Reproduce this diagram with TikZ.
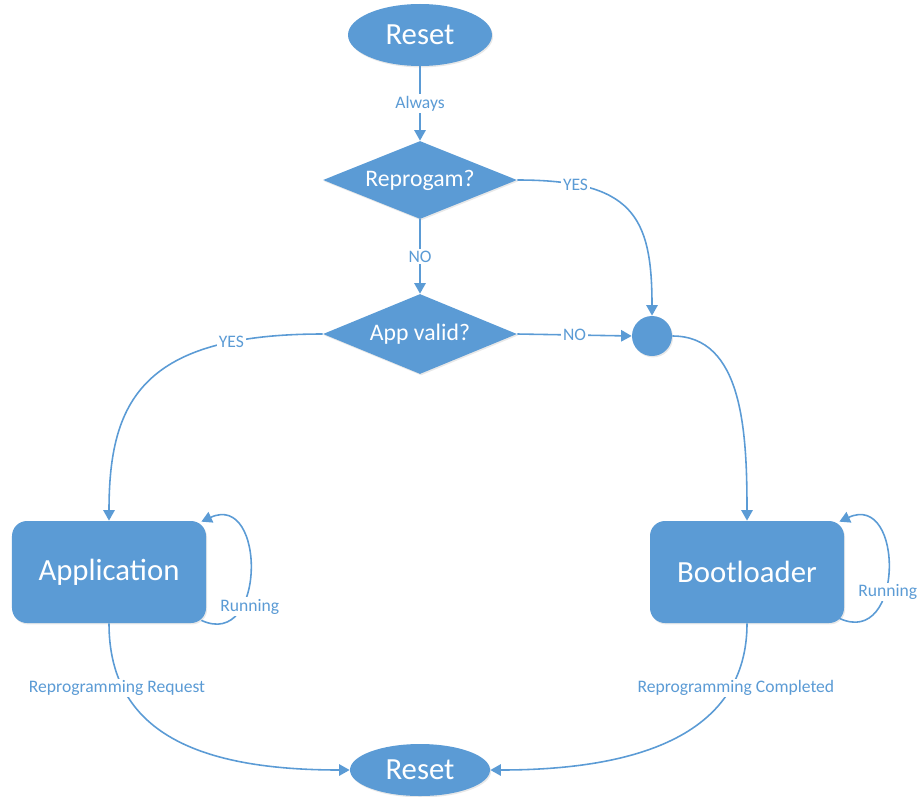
\documentclass[tikz,border=0pt]{standalone}
\usepackage{fontspec}
\setmainfont{Carlito}
\usetikzlibrary{shapes.geometric, arrows.meta, shadows}
\definecolor{FlowBlue}{RGB}{91, 155, 213}

\begin{document}
\begin{tikzpicture}[
    shape base/.style={fill=FlowBlue, draw=none, text=white, drop shadow={opacity=0.18, shadow xshift=0.6pt, shadow yshift=-0.8pt}},
    resetnode/.style={shape base, ellipse, inner sep=0pt, font=\fontsize{17.5}{20}\selectfont},
    decision/.style={shape base, diamond, aspect=2.5, inner sep=1pt, minimum width=3.88cm, minimum height=1.56cm, font=\fontsize{13.5}{16}\selectfont},
    statebox/.style={shape base, rounded corners=0.3cm, minimum width=3.88cm, minimum height=2.04cm, font=\fontsize{17.5}{20}\selectfont},
    joint/.style={shape base, circle, minimum size=0.8cm, inner sep=0pt},
    flow/.style={draw=FlowBlue, line width=0.9pt, -{Triangle[length=6pt, width=6.5pt]}},
    lbl/.style={fill=white, text=FlowBlue, inner sep=1pt, font=\fontsize{10}{12}\selectfont}
]
    \useasboundingbox (0,0) rectangle (18.4,15.92);

    % Start and decisions
    \node[resetnode, minimum width=2.88cm, minimum height=1.24cm] (resetTop) at (8.4,15.22) {Reset};
    \node[decision] (reprog) at (8.4,12.32) {Reprogam?};
    \node[decision, minimum height=1.6cm] (valid) at (8.4,9.24) {App valid?};
    \node[joint] (join) at (13.04,9.2) {};

    % States
    \node[statebox] (app) at (2.18,4.48) {Application};
    \node[statebox] (boot) at (14.94,4.48) {Bootloader};

    % End
    \node[resetnode, minimum width=2.8cm, minimum height=1.04cm] (resetBot) at (8.4,0.52) {Reset};

    % Arrows
    \draw[flow] (resetTop) -- node[lbl] {Always} (reprog);
    \draw[flow] (reprog) -- node[lbl] {NO} (valid);
    \draw[flow] (reprog.east) .. controls +(2.3,0) and +(0,2.0) .. node[lbl, pos=0.2] {YES} (join.north);
    \draw[flow] (valid.east) -- node[lbl] {NO} (join.west);
    \draw[flow] (join.east) .. controls +(1.4,0) and +(0,1.8) .. (boot.north);
    \draw[flow] (valid.west) .. controls +(-3.6,0) and +(0,2.4) .. node[lbl, pos=0.2] {YES} (app.north);

    % Self loops
    \draw[flow] ([xshift=-0.1cm, yshift=0.06cm]app.south east) .. controls +(1.3,-0.6) and +(1.3,0.6) .. node[lbl, pos=0.3, xshift=0.15cm] {Running} ([xshift=-0.1cm, yshift=-0.02cm]app.north east);
    \draw[flow] ([xshift=-0.1cm, yshift=0.1cm]boot.south east) .. controls +(1.3,-0.6) and +(1.3,0.6) .. node[lbl, pos=0.38, xshift=0.05cm] {Running} ([xshift=-0.1cm, yshift=-0.02cm]boot.north east);

    % Back to reset
    \draw[flow] (app.south) .. controls +(0,-2.2) and +(-3,0) .. node[lbl, pos=0.23, xshift=-0.12cm] {Reprogramming Request} (resetBot.west);
    \draw[flow] (boot.south) .. controls +(0,-2.2) and +(3,0) .. node[lbl, pos=0.23, xshift=0.1cm] {Reprogramming Completed} (resetBot.east);
\end{tikzpicture}
\end{document}
